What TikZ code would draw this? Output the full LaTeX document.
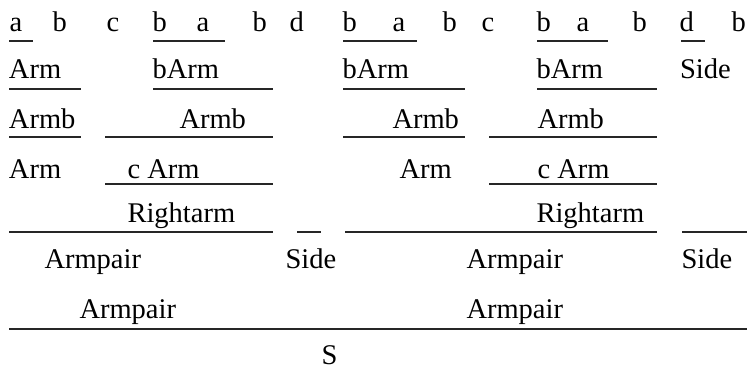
\documentclass[tikz,border=0pt]{standalone}
\usepackage{fontspec}
\setmainfont{Liberation Serif}
\begin{document}
\begin{tikzpicture}[x=1pt,y=-1pt,
  lbl/.style={inner sep=0pt,outer sep=0pt,anchor=base west,font=\fontsize{28.5}{34}\selectfont},
  bar/.style={line width=1.2pt,draw=black!85}]
\useasboundingbox (0,0) rectangle (747,370);
% row 1 (terminals)
\foreach \x/\t [count=\i] in {9.5/a,52.5/b,106.5/c,152.5/b,196.5/a,252.5/b,289.5/d,342.5/b,392.5/a,442.5/b,481.5/c,536.5/b,576.5/a,632.5/b,679.5/d,731.5/b}
  \node[lbl] (t\i) at (\x,31) {\t};
\draw[bar] (9,41) -- (33,41);
\draw[bar] (153,41) -- (225,41);
\draw[bar] (343,41) -- (417,41);
\draw[bar] (537,41) -- (608,41);
\draw[bar] (681,41) -- (705,41);
% row 2
\node[lbl] (r2a) at (9,78) {Arm};
\node[lbl] (r2b) at (152.5,78) {bArm};
\node[lbl] (r2c) at (342.5,78) {bArm};
\node[lbl] (r2d) at (536.5,78) {bArm};
\node[lbl] (r2e) at (680,78) {Side};
\draw[bar] (9,89) -- (81,89);
\draw[bar] (153,89) -- (273,89);
\draw[bar] (343,89) -- (465,89);
\draw[bar] (537,89) -- (657,89);
% row 3
\node[lbl] (r3a) at (9,128) {Armb};
\node[lbl] (r3b) at (179.5,128) {Armb};
\node[lbl] (r3c) at (392.5,128) {Armb};
\node[lbl] (r3d) at (537.5,128) {Armb};
\draw[bar] (9,137) -- (81,137);
\draw[bar] (105,137) -- (273,137);
\draw[bar] (343,137) -- (465,137);
\draw[bar] (489,137) -- (657,137);
% row 4
\node[lbl] (r4a) at (9,178) {Arm};
\node[lbl] (r4b) at (127.5,178) {c Arm};
\node[lbl] (r4c) at (399.5,178) {Arm};
\node[lbl] (r4d) at (537.5,178) {c Arm};
\draw[bar] (105,184) -- (273,184);
\draw[bar] (489,184) -- (657,184);
% row 5
\node[lbl] (r5a) at (127.5,222) {Rightarm};
\node[lbl] (r5b) at (536.5,222) {Rightarm};
\draw[bar] (9,232) -- (273,232);
\draw[bar] (297,232) -- (321,232);
\draw[bar] (345,232) -- (657,232);
\draw[bar] (682,232) -- (747,232);
% row 6
\node[lbl] (r6a) at (44.5,268) {Armpair};
\node[lbl] (r6b) at (285.5,268) {Side};
\node[lbl] (r6c) at (466.5,268) {Armpair};
\node[lbl] (r6d) at (681.5,268) {Side};
% row 7
\node[lbl] (r7a) at (79.5,318) {Armpair};
\node[lbl] (r7b) at (466.5,318) {Armpair};
\draw[bar] (9,329) -- (747,329);
% row 8
\node[lbl,text depth=0pt] (r8) at (321.5,364) {S};
\end{tikzpicture}
\end{document}
